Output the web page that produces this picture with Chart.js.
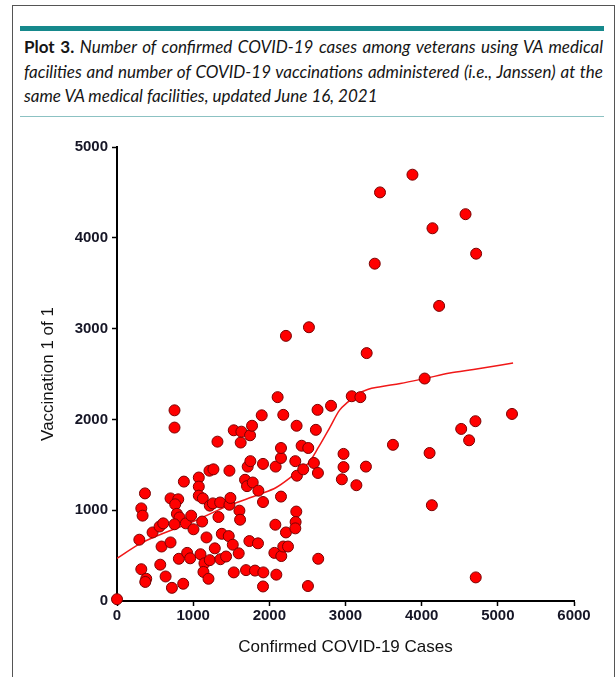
<!DOCTYPE html>
<html><head><meta charset="utf-8">
<script src="https://cdn.jsdelivr.net/npm/chart.js@4.4.0/dist/chart.umd.min.js"></script>
<style>
html,body{margin:0;padding:0;background:#fff;}
#wrap{position:relative;width:616px;height:677px;overflow:hidden;background:#fff;}
#frame{position:absolute;left:12px;top:5px;width:601px;height:690px;border:1px solid #555;border-bottom:none;}
#bar{position:absolute;left:20px;top:26px;width:584px;height:5px;background:#16898c;}
#sep{position:absolute;left:20px;top:116px;width:584px;height:1px;background:#8cc2c3;}
#title{position:absolute;left:24px;top:35px;width:579px;font-family:Lato,"Open Sans",sans-serif;font-size:17px;line-height:24.5px;color:#151515;font-style:italic;}
#title .l{text-align:justify;text-align-last:justify;}
#title .l3{text-align:left;}
#title b{font-style:normal;font-weight:700;}
canvas{position:absolute;left:0;top:0;}
</style>
</head><body>
<div id="wrap">
<div id="frame"></div>
<div id="bar"></div>
<div id="title">
<div class="l"><b>Plot 3.</b> Number of confirmed COVID-19 cases among veterans using VA medical</div>
<div class="l">facilities and number of COVID-19 vaccinations administered (i.e., Janssen) at the</div>
<div class="l3">same VA medical facilities, updated June 16, 2021</div>
</div>
<div id="sep"></div>
<canvas id="c" width="616" height="677"></canvas>
</div>
<script>
const casesX = [0,755,755,367,319,336,293,467,319,384,371,559,607,703,804,764,786,821,755,585,703,568,638,721,878,812,869,904,921,961,974,1004,1074,1074,1074,1127,1096,1118,1175,1148,1135,1201,1218,1214,1266,1218,1258,1319,1284,1358,1354,1332,1376,1432,1467,1476,1489,1476,1520,1533,1533,1598,1607,1616,1624,1633,1694,1738,1681,1707,1782,1716,1751,1747,1773,1812,1851,1856,1921,1917,1917,1917,1900,2066,2079,2092,2083,2109,2153,2153,2153,2157,2183,2218,2183,2245,2341,2358,2362,2354,2345,2341,2424,2445,2511,2507,2585,2611,2633,2638,2642,2810,
2974,2974,2952,3143,3268,3623,4104,4134,4519,4706,4623,5186,4710,3082,3195,4039,
3879,3453,4576,4142,4715,3384,4229,2520,3278,2218];
const vaccY = [20,2100,1910,1185,1020,940,675,755,350,245,210,820,855,1130,1120,1065,960,920,845,600,645,400,270,145,1315,465,190,855,530,470,940,790,1360,1260,1160,1130,515,875,700,415,320,245,450,1435,1450,1050,1075,1755,580,460,1085,925,740,490,715,1060,1135,1435,620,315,1880,525,995,895,1745,1865,340,660,1335,1265,1305,1480,1540,1825,1930,335,635,1215,315,160,1090,1510,2045,530,840,290,1480,2245,1575,1685,1150,495,2050,755,600,600,1540,1930,1380,985,870,800,1710,1450,1685,165,1520,1885,2105,1410,465,2150,
1620,1475,1340,1275,1480,1720,1630,1055,1895,1980,1770,2060,260,2255,2245,2450,
4695,4500,4260,4105,3825,3715,3250,3015,2730,2920];
const trendX = [0,300,1000,1450,1870,2090,2300,2520,2650,2790,2920,3030,3150,3290,3460,3720,4040,4370,4680,5200];
const trendY = [470,630,875,1045,1175,1250,1375,1525,1700,1905,2100,2190,2275,2330,2360,2395,2450,2510,2550,2620];
const xTicks = [0,1000,2000,3000,4000,5000,6000];
const yTicks = [0,1000,2000,3000,4000,5000];
const xTitle = 'Confirmed COVID-19 Cases';
const yTitle = 'Vaccination 1 of 1';

const tickFont = {family:'"Liberation Sans", Arial, sans-serif', size:15, weight:'bold'};
const titleFont = {family:'"Liberation Sans", Arial, sans-serif', size:17};

new Chart(document.getElementById('c'), {
  type:'scatter',
  data:{datasets:[
    {type:'line', data:trendX.map((x,i)=>({x:x,y:trendY[i]})), borderColor:'#f01818', borderWidth:1.5, pointRadius:0, tension:0.4, cubicInterpolationMode:'monotone', fill:false, order:2},
    {data:casesX.map((x,i)=>({x:x,y:vaccY[i]})), backgroundColor:'#ff0000', borderColor:'#7a0000', borderWidth:1, pointRadius:5.5, clip:false, order:1}
  ]},
  options:{
    responsive:false, animation:false, devicePixelRatio:1,
    layout:{padding:{left:0,top:147,right:42,bottom:0}},
    plugins:{legend:{display:false},tooltip:{enabled:false}},
    scales:{
      x:{type:'linear',min:0,max:6000,
        afterBuildTicks:s=>{s.ticks=xTicks.map(v=>({value:v}));},
        afterFit:s=>{s.height=76;},
        ticks:{color:'#161626',font:tickFont,padding:1,maxRotation:0,callback:v=>String(v)},
        grid:{display:true,drawOnChartArea:false,tickLength:5,color:'#000',tickWidth:1.5},
        border:{display:true,color:'#000',width:2},
        title:{display:true,text:xTitle,color:'#111',font:titleFont,padding:{top:0,bottom:19}}
      },
      y:{type:'linear',min:0,max:5000,
        afterBuildTicks:s=>{s.ticks=yTicks.map(v=>({value:v}));},
        afterFit:s=>{s.width=117;},
        ticks:{color:'#161626',font:tickFont,padding:4,callback:v=>String(v)},
        grid:{display:true,drawOnChartArea:false,tickLength:5,color:'#000',tickWidth:1.5},
        border:{display:true,color:'#000',width:2},
        title:{display:true,text:yTitle,color:'#111',font:titleFont,padding:{top:38,bottom:0}}
      }
    }
  }
});
</script>
</body></html>
